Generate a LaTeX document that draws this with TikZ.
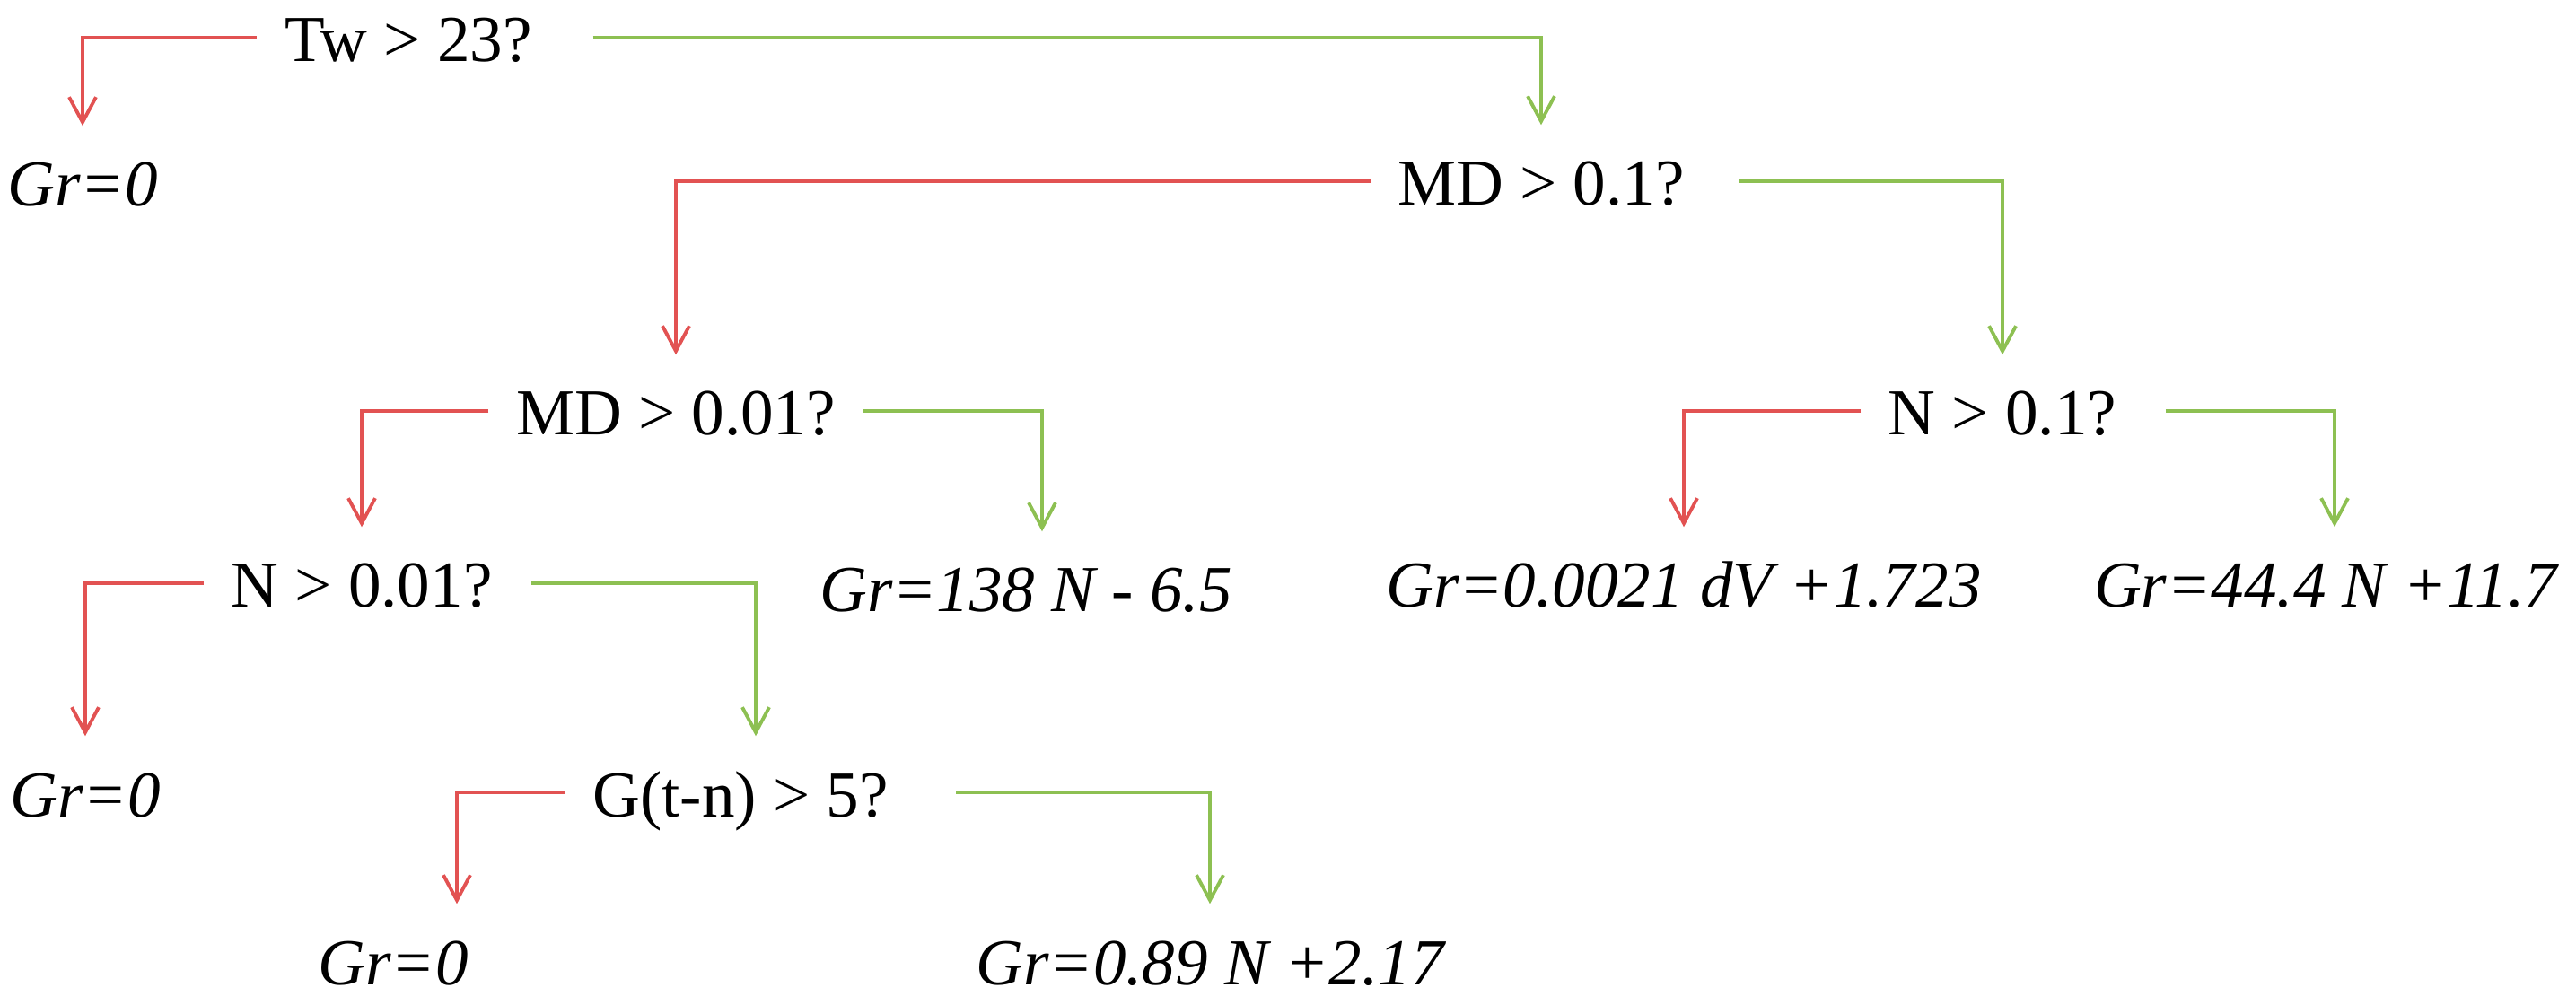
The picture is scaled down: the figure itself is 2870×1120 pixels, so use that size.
\documentclass[tikz,border=0pt]{standalone}
\usepackage{fontspec}
\setmainfont{Liberation Serif}
\usetikzlibrary{arrows.meta}
\definecolor{nored}{RGB}{226,82,82}
\definecolor{yesgreen}{RGB}{141,192,82}
\begin{document}
\begin{tikzpicture}[x=0.1mm,y=-0.1mm,
  every node/.style={anchor=base,font=\fontsize{20.8pt}{25pt}\selectfont,
    text height=5.4mm,text depth=0pt,inner xsep=3mm,inner ysep=3.5mm},
  leaf/.style={font=\fontsize{20.8pt}{25pt}\selectfont\itshape},
  no/.style={draw=nored,line width=1.1pt,-{Straight Barb[length=2.8mm,width=3mm]}},
  yes/.style={no,draw=yesgreen}]
  \useasboundingbox (0,0) rectangle (2870,1120);

  \node (tw) at (455,69) {Tw > 23?};
  \node[leaf] (gr1) at (92,230) {Gr=0};
  \node (md1) at (1717,229) {MD > 0.1?};
  \node (md2) at (753,485) {MD > 0.01?};
  \node (n1) at (2231,485) {N > 0.1?};
  \node[leaf] (gr2) at (1143,682) {Gr=138 N - 6.5};
  \node[leaf] (gr3) at (1876,677) {Gr=0.0021 dV +1.723};
  \node[leaf] (gr4) at (2591,677) {Gr=44.4 N +11.7};
  \node (n2) at (403,677) {N > 0.01?};
  \node[leaf] (gr5) at (95,910) {Gr=0};
  \node (g) at (825,910) {G(t-n) > 5?};
  \node[leaf] (gr6) at (438,1097) {Gr=0};
  \node[leaf] (gr7) at (1348,1097) {Gr=0.89 N +2.17};

  \draw[no] (tw.west) -| (gr1.north);
  \draw[yes] ([xshift=3.7mm]tw.east) -| (md1.north);
  \draw[no] (md1.west) -| (md2.north);
  \draw[yes] ([xshift=3mm]md1.east) -| (n1.north);
  \draw[no] (md2.west) -| (n2.north);
  \draw[yes] (md2.east) -| ([xshift=1.8mm]gr2.north);
  \draw[no] (n1.west) -| (gr3.north);
  \draw[yes] ([xshift=2.4mm]n1.east) -| ([xshift=1mm]gr4.north);
  \draw[no] (n2.west) -| (gr5.north);
  \draw[yes] ([xshift=1.3mm]n2.east) -| ([xshift=1.7mm]g.north);
  \draw[no] (g.west) -| ([xshift=7.1mm]gr6.north);
  \draw[yes] ([xshift=4.5mm]g.east) -| (gr7.north);
\end{tikzpicture}
\end{document}
